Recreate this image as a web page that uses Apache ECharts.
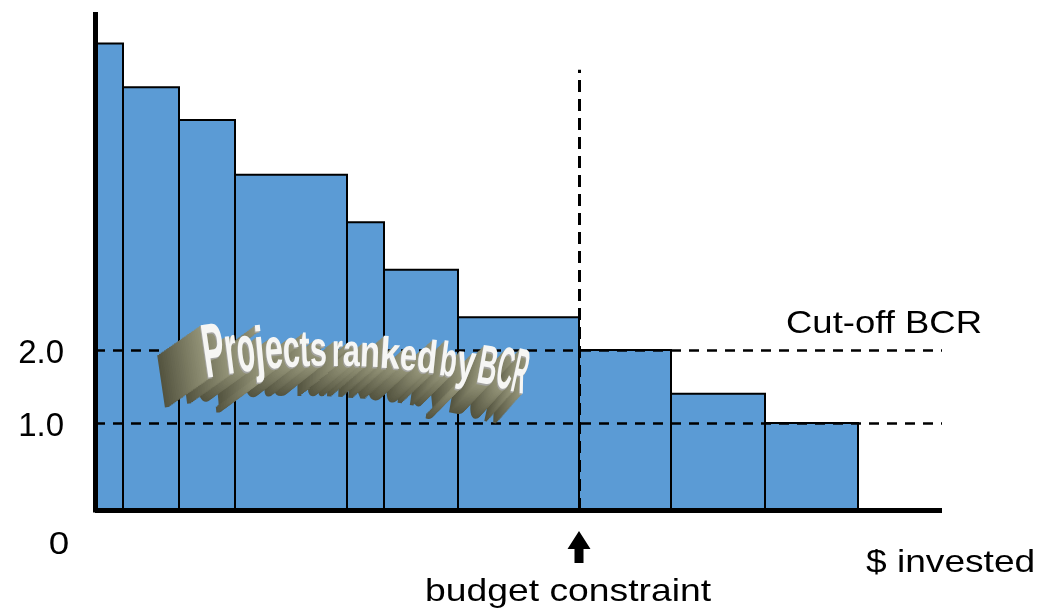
<!DOCTYPE html>
<html>
<head>
<meta charset="utf-8">
<script src="https://cdn.jsdelivr.net/npm/echarts@6/dist/echarts.min.js"></script>
<style>
  html, body { margin: 0; padding: 0; background: #ffffff; }
  #chart { width: 1054px; height: 613px; }
</style>
</head>
<body>
<div id="chart"></div>
<script>
// Projects ranked by benefit-cost ratio (BCR); bar width = $ invested in each project
const projectCosts = [2.8, 5.6, 5.6, 11.2, 3.7, 7.4, 12.1, 9.2, 9.4, 9.3];
const projectBCR   = [6.2, 5.6, 5.15, 4.4, 3.75, 3.1, 2.45, 2.0, 1.4, 1.0];
const yTickValues  = [1, 2];
const yTickLabels  = ['1.0', '2.0'];
const budgetLimit  = 48.4;   // cumulative $ that the budget allows
const cutoffBCR    = 2.0;
const breakEvenBCR = 1.0;

const Y_MIN = -0.192;
const Y_MAX = 6.596;
const X_MAX = 84.7;
const BUDGET_LINE_TOP = 5.84;
const FONT = 'Arial, sans-serif';

// [start, end, bcr] for each project, laid end to end along the $ axis
const rows = [];
let acc = 0;
projectCosts.forEach((c, i) => {
  rows.push([acc, acc + c, projectBCR[i]]);
  acc += c;
});

const chart = echarts.init(document.getElementById('chart'), null, { renderer: 'canvas' });

chart.setOption({
  animation: false,
  backgroundColor: '#ffffff',
  textStyle: { fontFamily: FONT },
  grid: { left: 95, right: 112, top: 14.5, bottom: 103, containLabel: false },
  xAxis: {
    type: 'value', min: 0, max: X_MAX, z: 5,
    axisLine: { show: true, onZero: false, lineStyle: { color: '#000', width: 5, cap: 'butt' } },
    axisTick: { show: false }, axisLabel: { show: false }, splitLine: { show: false }
  },
  yAxis: {
    type: 'value', min: Y_MIN, max: Y_MAX, z: 5,
    axisLine: { show: true, onZero: false, lineStyle: { color: '#000', width: 5, cap: 'square' } },
    axisTick: { show: false },
    splitLine: { show: false },
    axisLabel: {
      customValues: yTickValues,
      formatter: v => '{t|' + (yTickLabels[yTickValues.indexOf(v)] || '') + '}',
      margin: 31,
      rich: {
        t: { color: '#000', fontFamily: FONT, fontSize: 33, fontWeight: 'normal', padding: [7, 0, 0, 0] }
      }
    }
  },
  series: [{
    type: 'custom',
    z: 2,
    data: rows,
    encode: { x: [0, 1], y: 2 },
    renderItem: (params, api) => {
      const p0 = api.coord([api.value(0), Y_MIN]);
      const p1 = api.coord([api.value(1), api.value(2)]);
      return {
        type: 'rect',
        shape: { x: p0[0], y: p1[1], width: p1[0] - p0[0], height: p0[1] - p1[1] },
        style: { fill: '#5B9BD5', stroke: '#000', lineWidth: 2 }
      };
    },
    markLine: {
      silent: true,
      symbol: ['none', 'none'],
      label: { show: false },
      z: 3,
      data: [
        { yAxis: cutoffBCR, lineStyle: { color: '#000', width: 2.5, type: [10, 8] } },
        { yAxis: breakEvenBCR, lineStyle: { color: '#000', width: 2.5, type: [10, 8] } },
        [
          { coord: [budgetLimit, Y_MIN], lineStyle: { color: '#000', width: 3, type: [12, 7] } },
          { coord: [budgetLimit, BUDGET_LINE_TOP] }
        ]
      ]
    }
  }]
});

// ---- annotations ----
function plainText(text, x, y, align, sx) {
  return {
    type: 'text', x: x, y: y, scaleX: sx, z: 50, silent: true,
    style: { text: text, font: '32px ' + FONT, fill: '#000', align: align, verticalAlign: 'middle' }
  };
}

function buildGraphics() {
  const els = [];
  const budgetX = chart.convertToPixel({ xAxisIndex: 0 }, budgetLimit);

  els.push(plainText('0', 59, 545, 'center', 1.15));
  els.push(plainText('Cut-off BCR', 786, 324, 'left', 1.14));
  els.push(plainText('$ invested', 866, 563, 'left', 1.16));
  els.push(plainText('budget constraint', 425, 592, 'left', 1.165));

  // arrow pointing up at the budget constraint
  els.push({
    type: 'polygon', z: 50, silent: true,
    shape: { points: [
      [budgetX - 11.5, 549], [budgetX, 531], [budgetX + 11.5, 549],
      [budgetX + 4.5, 549], [budgetX + 4.5, 563], [budgetX - 4.5, 563], [budgetX - 4.5, 549]
    ] },
    style: { fill: '#000' }
  });

  // 3-D title lettering along a gentle arch
  const word = 'Projects ranked by BCR'.replace(/ /g, '');
  const lefts  = [203, 225, 237, 255, 265, 283, 300, 310, 332, 343, 360, 380, 400, 417, 440, 457, 478, 497, 513];
  const widths = [22, 12, 18, 10, 18, 17, 10, 17, 11, 17, 20, 20, 17, 20, 17, 18, 19, 16, 14];
  const F = 40;
  const artFont = 'bold ' + F + 'px ' + FONT;
  const ctx = document.createElement('canvas').getContext('2d');
  ctx.font = artFont;
  const X0 = 203, SPAN = 324, N = 26;
  const glyphs = [];
  for (let i = 0; i < word.length; i++) {
    const w = widths[i];
    const xc = lefts[i] + w / 2;
    const u = (xc - X0) / SPAN;
    const base = 90 * u * u - 75 * u + 385;
    const h = 82 * u * u - 93 * u + 58;
    const slope = (180 * u - 75) / SPAN;
    const adv = ctx.measureText(word[i]).width;
    glyphs.push({
      ch: word[i], x: xc, y: base - h / 2,
      sx: w / adv, sy: h / (0.716 * F),
      rot: -Math.atan(slope) * 0.7,
      dx: -44 + 18 * u, dy: 30
    });
  }
  const dark = [84, 84, 64], light = [150, 150, 122];
  for (let k = N; k >= 1; k--) {
    const t = 1 - k / N;
    const c = dark.map((d, j) => Math.round(d + (light[j] - d) * t));
    const col = 'rgb(' + c.join(',') + ')';
    glyphs.forEach(g => {
      els.push({
        type: 'text', z: 60, silent: true,
        x: g.x + g.dx * k / N, y: g.y + g.dy * k / N,
        rotation: g.rot, scaleX: g.sx, scaleY: g.sy,
        style: { text: g.ch, font: artFont, fill: col, align: 'center', verticalAlign: 'middle' }
      });
    });
  }
  // front faces: a grey underside edge, then the bright face
  glyphs.forEach(g => {
    els.push({
      type: 'text', z: 61, silent: true,
      x: g.x - 0.8, y: g.y + 1.6, rotation: g.rot, scaleX: g.sx, scaleY: g.sy,
      style: { text: g.ch, font: artFont, align: 'center', verticalAlign: 'middle', fill: '#a4a4a0' }
    });
    els.push({
      type: 'text', z: 62, silent: true,
      x: g.x, y: g.y, rotation: g.rot, scaleX: g.sx, scaleY: g.sy,
      style: { text: g.ch, font: artFont, align: 'center', verticalAlign: 'middle', fill: '#f6f6f4' }
    });
  });
  return els;
}

chart.setOption({ graphic: { elements: buildGraphics() } });
</script>
</body>
</html>
